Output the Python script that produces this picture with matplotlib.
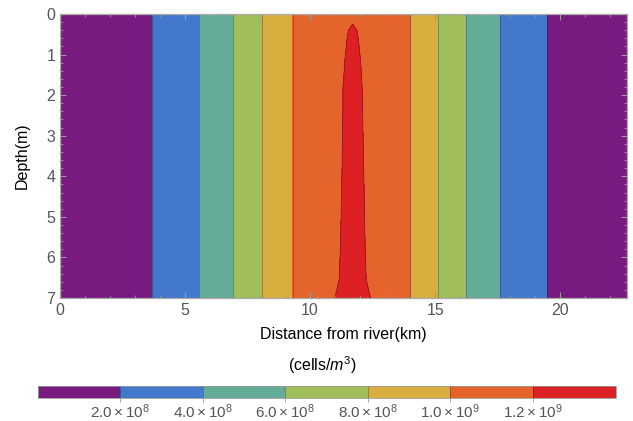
import matplotlib
matplotlib.use("Agg")
import matplotlib.pyplot as plt
from matplotlib.ticker import MultipleLocator
import numpy as np

plt.rcParams['font.family'] = ['Liberation Sans', 'DejaVu Sans']
plt.rcParams['mathtext.fontset'] = 'custom'
plt.rcParams['mathtext.rm'] = 'Liberation Sans'
plt.rcParams['mathtext.it'] = 'Liberation Sans:italic'

# concentration, in units of 1e8 cells/m^3
depth_m = [0, 0.27, 0.4, 0.64, 1.13, 1.83, 3.5, 5.3, 6.55, 7.0]

# left side of the channel (same at every depth)
x_left_km = [0, 3.68, 5.56, 6.9, 8.06, 9.3]
c_left = [1.2, 2.0, 4.0, 6.0, 8.0, 10.0]

# centre of the plume, one row per depth
x_mid_km = [10.5, 11.0, 11.2, 11.4, 11.7, 12.0, 12.2, 12.4, 13.0]
c_mid = [
    [10.9, 11.4, 11.6, 11.75, 11.85, 11.75, 11.6, 11.4, 10.9],
    [11.0, 11.5, 11.7, 11.85, 12.01, 11.85, 11.7, 11.5, 11.0],
    [11.0, 11.5, 11.7, 11.88, 12.15, 11.88, 11.7, 11.5, 11.0],
    [11.0, 11.55, 11.75, 11.9, 12.3, 11.91, 11.75, 11.55, 11.0],
    [11.1, 11.6, 11.8, 12.01, 12.4, 12.02, 11.8, 11.6, 11.1],
    [11.1, 11.6, 11.8, 12.15, 12.5, 12.1, 11.85, 11.6, 11.1],
    [11.15, 11.65, 11.85, 12.2, 12.6, 12.2, 11.9, 11.65, 11.15],
    [11.2, 11.7, 11.95, 12.3, 12.7, 12.3, 11.98, 11.7, 11.2],
    [11.25, 11.75, 12.05, 12.4, 12.8, 12.4, 12.05, 11.8, 11.25],
    [11.3, 12.02, 12.3, 12.6, 12.9, 12.6, 12.3, 12.02, 11.3],
]

# right side of the channel (same at every depth)
x_right_km = [14.0, 15.12, 16.24, 17.6, 19.46, 22.67]
c_right = [10.0, 8.0, 6.0, 4.0, 2.0, 1.2]

levels = [0, 2, 4, 6, 8, 10, 12, 14]
cbar_ticks = [2, 4, 6, 8, 10, 12]
cbar_labels = [r"$\mathregular{2.0\times10^{8}}$", r"$\mathregular{4.0\times10^{8}}$",
               r"$\mathregular{6.0\times10^{8}}$", r"$\mathregular{8.0\times10^{8}}$",
               r"$\mathregular{1.0\times10^{9}}$", r"$\mathregular{1.2\times10^{9}}$"]
band_colors = ["#781A80", "#4378CC", "#63AD98", "#A0BE5A", "#D8AE3E", "#E4642C", "#DC2024"]


def main():
    x_all = np.array(x_left_km + x_mid_km + x_right_km)
    z = np.array([c_left + row + c_right for row in c_mid]) * 1e8
    lv = np.array(levels) * 1e8

    fig = plt.figure(figsize=(6.33, 4.21), dpi=100)
    ax = fig.add_axes([60 / 633, 1 - 298 / 421, 567 / 633, 284 / 421])

    cf = ax.contourf(x_all, depth_m, z, levels=lv, colors=band_colors)
    ax.contour(x_all, depth_m, z, levels=lv[1:-1], colors='k', linewidths=0.6, alpha=0.3)

    ax.set_xlim(0, 22.67)
    ax.set_ylim(7, 0)
    ax.xaxis.set_major_locator(MultipleLocator(5))
    ax.xaxis.set_minor_locator(MultipleLocator(1))
    ax.yaxis.set_major_locator(MultipleLocator(1))
    ax.yaxis.set_minor_locator(MultipleLocator(0.2))
    ax.tick_params(which='both', direction='in', top=True, right=True,
                   color='#999999', labelcolor='#555555', labelsize=11.5)
    ax.tick_params(which='major', length=4, width=0.8, pad=3.5)
    ax.tick_params(which='minor', length=2.2, width=0.6)
    for s in ax.spines.values():
        s.set_color('#aaaaaa')
        s.set_linewidth(0.9)

    fig.text(343.5 / 633, 1 - 335 / 421, "Distance from river(km)", fontsize=11.5,
             ha='center', va='center')
    fig.text(22 / 633, 1 - 156 / 421, "Depth(m)", fontsize=11.5, rotation=90,
             ha='center', va='center')
    fig.text(322 / 633, 1 - 365 / 421, r"(cells/$m^{3}$)", fontsize=11.5,
             ha='center', va='center')

    cax = fig.add_axes([37.5 / 633, 1 - 398 / 421, 578 / 633, 12 / 421])
    cb = fig.colorbar(cf, cax=cax, orientation='horizontal')
    cb.set_ticks([t * 1e8 for t in cbar_ticks])
    cb.set_ticklabels(cbar_labels)
    cb.ax.tick_params(length=3, width=0.6, color='#999999', labelcolor='#555555',
                      labelsize=11, pad=0.5)
    cb.outline.set_edgecolor('#999999')
    cb.outline.set_linewidth(0.6)
    cb.ax.minorticks_off()
    for t in cbar_ticks:
        cb.ax.axvline(t * 1e8, color='k', alpha=0.3, lw=0.6)

    fig.savefig("out.png", dpi=100)
    plt.close(fig)


if __name__ == "__main__":
    main()
